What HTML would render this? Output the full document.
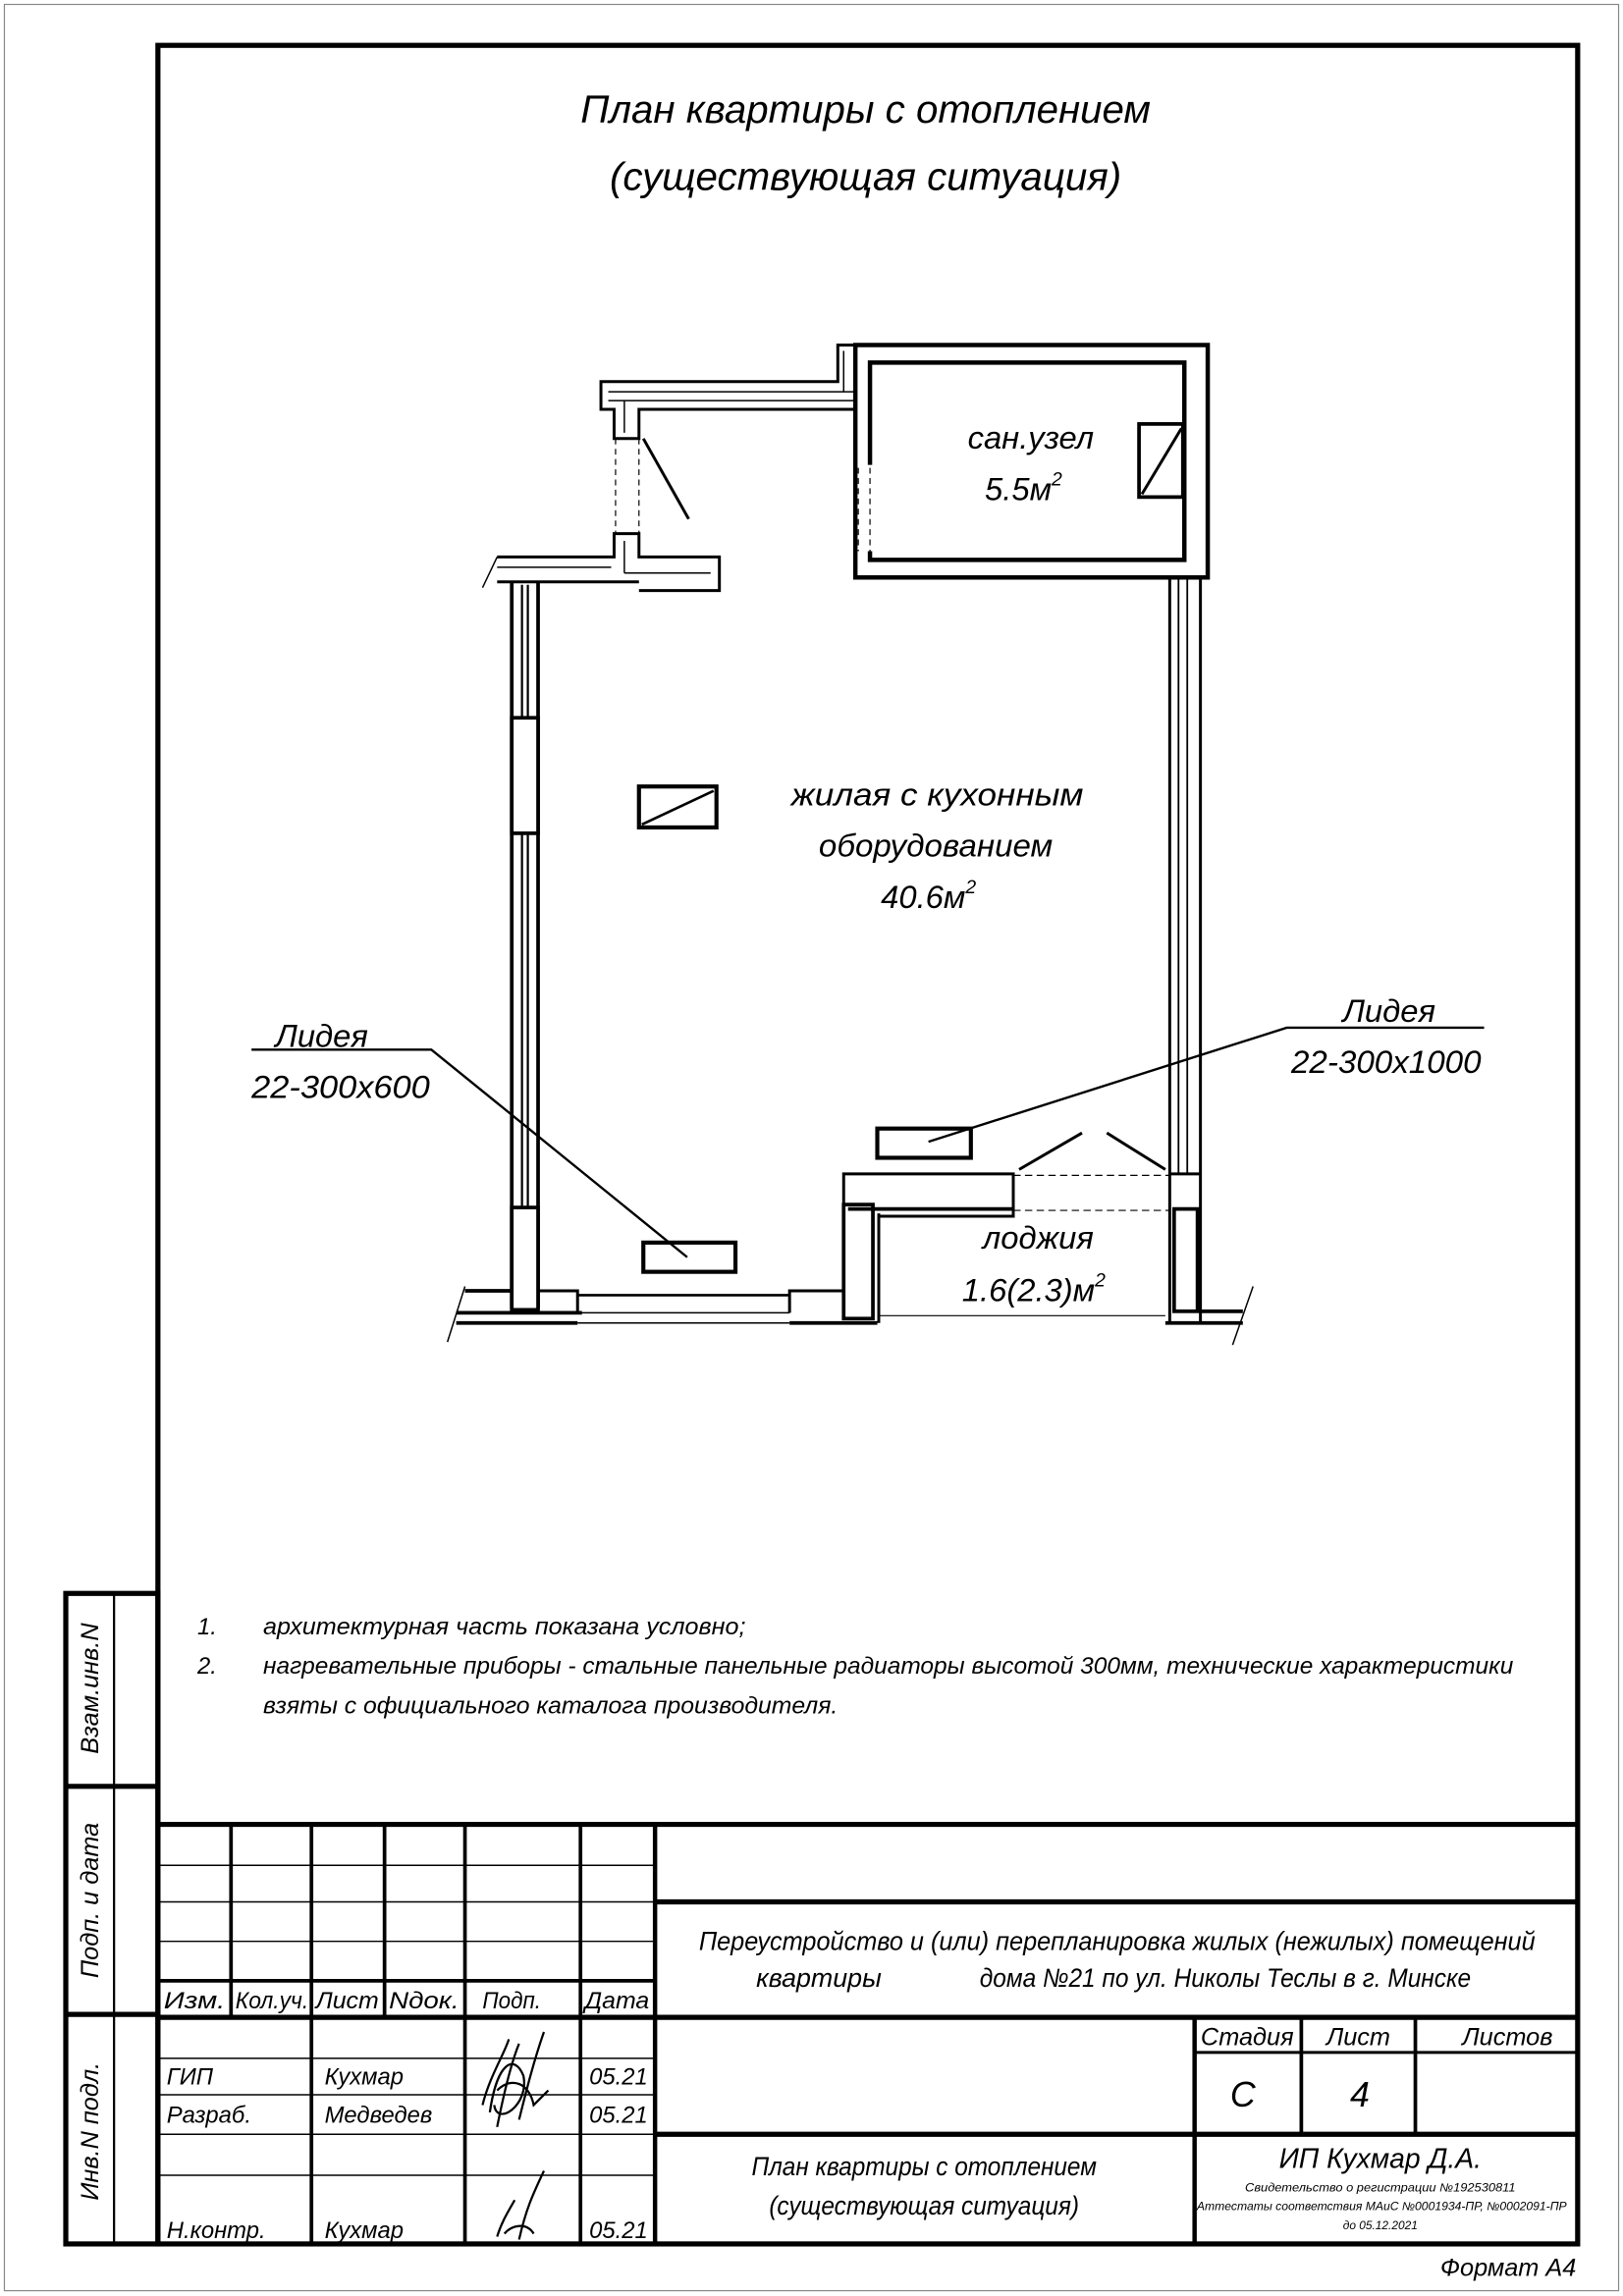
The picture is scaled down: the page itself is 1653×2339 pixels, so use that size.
<!DOCTYPE html>
<html><head><meta charset="utf-8"><style>
html,body{margin:0;padding:0;background:#fff}
svg{display:block}
text{font-family:"Liberation Sans","DejaVu Sans",sans-serif;font-style:italic;fill:#000}
</style></head><body>
<svg width="1653" height="2339" viewBox="0 0 1110 1570.6" xmlns="http://www.w3.org/2000/svg">
<rect x="0" y="0" width="1110" height="1571" fill="#fff"/>
<!-- outer thin border -->
<rect x="3" y="3" width="1104" height="1564" fill="none" stroke="#888" stroke-width="0.8"/>
<!-- main frame -->
<rect x="108" y="31" width="971" height="1504" fill="none" stroke="#000" stroke-width="3.5"/>
<!-- side strip -->
<g stroke="#000" fill="none">
<rect x="45" y="1090" width="63" height="445" stroke-width="3.5"/>
<line x1="78" y1="1090" x2="78" y2="1535" stroke-width="1.5"/>
<line x1="45" y1="1222" x2="108" y2="1222" stroke-width="3.5"/>
<line x1="45" y1="1378" x2="108" y2="1378" stroke-width="3.5"/>
</g>
<text transform="translate(67,1155) rotate(-90)" font-size="17" text-anchor="middle">Взам.инв.N</text>
<text transform="translate(67,1300) rotate(-90)" font-size="17" text-anchor="middle">Подп. и дата</text>
<text transform="translate(67,1458) rotate(-90)" font-size="17" text-anchor="middle">Инв.N подл.</text>

<!-- title -->
<text x="592" y="84" font-size="27" text-anchor="middle" textLength="390" lengthAdjust="spacingAndGlyphs">План квартиры с отоплением</text>
<text x="592" y="130" font-size="27" text-anchor="middle" textLength="350" lengthAdjust="spacingAndGlyphs">(существующая ситуация)</text>

<!-- FLOOR PLAN -->
<g stroke="#000" fill="none" stroke-width="2.5">
<!-- sanuzel -->
<rect x="585" y="236" width="241" height="159" stroke-width="3"/>
<polyline points="595,318 595,248 810,248 810,383 595,383 595,377" stroke-width="3"/>
<line x1="587" y1="320" x2="587" y2="377" stroke-width="0.8" stroke-dasharray="4,3"/>
<line x1="595" y1="320" x2="595" y2="377" stroke-width="0.8" stroke-dasharray="4,3"/>
<rect x="779" y="290" width="30" height="50" stroke-width="2.5"/>
<line x1="781" y1="338" x2="808" y2="293" stroke-width="2"/>
<!-- upper corridor wall -->
<polyline points="585,236 573,236 573,261 411,261 411,280 420,280 420,300 437,300 437,280 585,280" stroke-width="2"/>
<line x1="577" y1="240" x2="577" y2="268" stroke-width="1"/>
<line x1="416" y1="268" x2="585" y2="268" stroke-width="1"/>
<line x1="416" y1="274" x2="585" y2="274" stroke-width="1"/>
<line x1="427" y1="274" x2="427" y2="296" stroke-width="1"/>
<line x1="421" y1="300" x2="421" y2="365" stroke-width="0.8" stroke-dasharray="4,3"/>
<line x1="437" y1="300" x2="437" y2="365" stroke-width="0.8" stroke-dasharray="4,3"/>
<line x1="440" y1="300" x2="471" y2="355" stroke-width="2"/>
<!-- lower corridor wall -->
<polyline points="340,381 420,381 420,365 437,365 437,381 492,381 492,404 437,404" stroke-width="2"/>
<line x1="340" y1="398" x2="437" y2="398" stroke-width="2"/>
<line x1="427" y1="370" x2="427" y2="392" stroke-width="1"/>
<line x1="427" y1="392" x2="486" y2="392" stroke-width="1"/>
<line x1="340" y1="388" x2="418" y2="388" stroke-width="1"/>
<line x1="330" y1="402" x2="340" y2="381" stroke-width="1"/>
<!-- left wall -->
<line x1="350" y1="398" x2="350" y2="895" stroke-width="2.5"/>
<line x1="368" y1="398" x2="368" y2="895" stroke-width="2.5"/>
<line x1="357" y1="400" x2="357" y2="825" stroke-width="1.5"/>
<line x1="361" y1="400" x2="361" y2="825" stroke-width="1.5"/>
<rect x="350" y="491" width="18" height="79" fill="#fff" stroke-width="2.5"/>
<rect x="350" y="826" width="18" height="70" fill="#fff" stroke-width="2.5"/>
<!-- bottom wall -->
<polyline points="318,883 350,883" stroke-width="2.5"/>
<polyline points="368,883 395,883 395,898" stroke-width="2"/>
<line x1="312" y1="898" x2="398" y2="898" stroke-width="2.5"/>
<line x1="395" y1="886" x2="540" y2="886" stroke-width="1.8"/>
<line x1="395" y1="898" x2="540" y2="898" stroke-width="1"/>
<polyline points="540,898 540,883 578,883" stroke-width="2"/>
<line x1="540" y1="905" x2="600" y2="905" stroke-width="2.5"/>
<line x1="395" y1="905" x2="540" y2="905" stroke-width="1"/>
<line x1="312" y1="905" x2="395" y2="905" stroke-width="2.5"/>
<line x1="306" y1="918" x2="318" y2="880" stroke-width="1"/>
<!-- loggia -->
<rect x="577" y="824" width="20" height="78" stroke-width="2.5"/>
<line x1="601" y1="830" x2="601" y2="905" stroke-width="2"/>
<polyline points="577,824 577,803 693,803 693,832 601,832" stroke-width="2"/>
<line x1="580" y1="827" x2="693" y2="827" stroke-width="2.5"/>
<line x1="693" y1="804" x2="800" y2="804" stroke-width="0.8" stroke-dasharray="5,3"/>
<line x1="693" y1="828" x2="800" y2="828" stroke-width="0.8" stroke-dasharray="5,3"/>
<line x1="601" y1="900" x2="797" y2="900" stroke-width="0.8"/>
<line x1="697" y1="800" x2="740" y2="775" stroke-width="2"/>
<line x1="757" y1="775" x2="797" y2="800" stroke-width="2"/>
<!-- right wall -->
<line x1="800" y1="395" x2="800" y2="905" stroke-width="2"/>
<line x1="806" y1="395" x2="806" y2="803" stroke-width="1.2"/>
<line x1="812" y1="395" x2="812" y2="803" stroke-width="1.2"/>
<line x1="821" y1="395" x2="821" y2="905" stroke-width="2"/>
<line x1="800" y1="803" x2="821" y2="803" stroke-width="2"/>
<rect x="803" y="827" width="16" height="70" stroke-width="2.5"/>
<line x1="797" y1="905" x2="850" y2="905" stroke-width="2.5"/>
<line x1="821" y1="897" x2="850" y2="897" stroke-width="2.5"/>
<line x1="843" y1="920" x2="857" y2="880" stroke-width="1"/>
<!-- radiators / vents -->
<rect x="600" y="772" width="64" height="20" stroke-width="2.8"/>
<rect x="440" y="850" width="63" height="20" stroke-width="2.8"/>
<rect x="437" y="538" width="53" height="28" stroke-width="2.8"/>
<line x1="439" y1="564" x2="488" y2="541" stroke-width="1.8"/>
<!-- leaders -->
<polyline points="172,718 295,718 470,860" stroke-width="1.6"/>
<polyline points="1015,703 880,703 635,781" stroke-width="1.6"/>
</g>
<text x="705" y="307" font-size="22" text-anchor="middle">сан.узел</text>
<text x="700" y="342" font-size="22" text-anchor="middle">5.5м<tspan font-size="13" dy="-10">2</tspan></text>
<text x="641" y="551" font-size="22" text-anchor="middle" textLength="200" lengthAdjust="spacingAndGlyphs">жилая с кухонным</text>
<text x="640" y="586" font-size="22" text-anchor="middle" textLength="160" lengthAdjust="spacingAndGlyphs">оборудованием</text>
<text x="635" y="621" font-size="22" text-anchor="middle">40.6м<tspan font-size="13" dy="-10">2</tspan></text>
<text x="710" y="854" font-size="22" text-anchor="middle">лоджия</text>
<text x="707" y="890" font-size="22" text-anchor="middle">1.6(2.3)м<tspan font-size="13" dy="-10">2</tspan></text>
<text x="220" y="716" font-size="22" text-anchor="middle">Лидея</text>
<text x="233" y="751" font-size="22" text-anchor="middle" textLength="122" lengthAdjust="spacingAndGlyphs">22-300х600</text>
<text x="950" y="699" font-size="22" text-anchor="middle">Лидея</text>
<text x="948" y="734" font-size="22" text-anchor="middle" textLength="130" lengthAdjust="spacingAndGlyphs">22-300х1000</text>

<!-- notes -->
<text x="135" y="1118" font-size="16">1.</text>
<text x="180" y="1118" font-size="16" textLength="330" lengthAdjust="spacingAndGlyphs">архитектурная часть показана условно;</text>
<text x="135" y="1145" font-size="16">2.</text>
<text x="180" y="1145" font-size="16" textLength="855" lengthAdjust="spacingAndGlyphs">нагревательные приборы - стальные панельные радиаторы высотой 300мм, технические характеристики</text>
<text x="180" y="1172" font-size="16" textLength="393" lengthAdjust="spacingAndGlyphs">взяты с официального каталога производителя.</text>

<!-- title block -->
<g stroke="#000" fill="none">
<line x1="108" y1="1248" x2="1079" y2="1248" stroke-width="3.5"/>
<line x1="448" y1="1248" x2="448" y2="1535" stroke-width="3"/>
<line x1="158" y1="1248" x2="158" y2="1380" stroke-width="2.5"/>
<line x1="213" y1="1248" x2="213" y2="1380" stroke-width="2.5"/>
<line x1="263" y1="1248" x2="263" y2="1380" stroke-width="2.5"/>
<line x1="318" y1="1248" x2="318" y2="1535" stroke-width="2.5"/>
<line x1="397" y1="1248" x2="397" y2="1535" stroke-width="2.5"/>
<line x1="213" y1="1380" x2="213" y2="1535" stroke-width="2.5"/>
<g stroke-width="1">
<line x1="108" y1="1276" x2="448" y2="1276"/>
<line x1="108" y1="1301" x2="448" y2="1301"/>
<line x1="108" y1="1328" x2="448" y2="1328"/>
<line x1="108" y1="1408" x2="448" y2="1408"/>
<line x1="108" y1="1433" x2="448" y2="1433"/>
<line x1="108" y1="1460" x2="448" y2="1460"/>
<line x1="108" y1="1488" x2="448" y2="1488"/>
</g>
<line x1="108" y1="1355" x2="448" y2="1355" stroke-width="2.5"/>
<line x1="108" y1="1380" x2="1079" y2="1380" stroke-width="3.5"/>
<line x1="448" y1="1301" x2="1079" y2="1301" stroke-width="3.5"/>
<line x1="448" y1="1460" x2="1079" y2="1460" stroke-width="3.5"/>
<line x1="817" y1="1380" x2="817" y2="1535" stroke-width="3"/>
<line x1="890" y1="1380" x2="890" y2="1460" stroke-width="2.5"/>
<line x1="968" y1="1380" x2="968" y2="1460" stroke-width="2.5"/>
<line x1="817" y1="1404" x2="1079" y2="1404" stroke-width="2"/>
</g>
<g font-size="16">
<text x="112" y="1374" textLength="42" lengthAdjust="spacingAndGlyphs">Изм.</text>
<text x="161" y="1374" textLength="50" lengthAdjust="spacingAndGlyphs">Кол.уч.</text>
<text x="216" y="1374" textLength="43" lengthAdjust="spacingAndGlyphs">Лист</text>
<text x="266" y="1374" textLength="48" lengthAdjust="spacingAndGlyphs">Nдок.</text>
<text x="330" y="1374" textLength="40" lengthAdjust="spacingAndGlyphs">Подп.</text>
<text x="400" y="1374" textLength="44" lengthAdjust="spacingAndGlyphs">Дата</text>
<text x="114" y="1426">ГИП</text>
<text x="222" y="1426">Кухмар</text>
<text x="403" y="1426" textLength="40" lengthAdjust="spacingAndGlyphs">05.21</text>
<text x="114" y="1452">Разраб.</text>
<text x="222" y="1452">Медведев</text>
<text x="403" y="1452" textLength="40" lengthAdjust="spacingAndGlyphs">05.21</text>
<text x="114" y="1531">Н.контр.</text>
<text x="222" y="1531">Кухмар</text>
<text x="403" y="1531" textLength="40" lengthAdjust="spacingAndGlyphs">05.21</text>
</g>
<!-- signatures -->
<g stroke="#000" fill="none" stroke-width="1.5">
<path d="M330,1440 C335,1420 345,1405 348,1395 M340,1455 C345,1430 350,1410 355,1398 M355,1450 C360,1430 365,1410 372,1390 M335,1445 C340,1410 352,1405 358,1420 C362,1440 340,1455 338,1440 M340,1430 C350,1420 362,1425 365,1440 L375,1430"/>
<path d="M340,1530 C343,1520 348,1512 352,1505 M355,1532 C360,1510 365,1500 372,1485 M345,1528 C350,1522 360,1520 365,1528"/>
</g>
<text x="764" y="1334" font-size="18" text-anchor="middle" textLength="572" lengthAdjust="spacingAndGlyphs">Переустройство и (или) перепланировка жилых (нежилых) помещений</text>
<text x="560" y="1359" font-size="18" text-anchor="middle">квартиры</text>
<text x="838" y="1359" font-size="18" text-anchor="middle" textLength="336" lengthAdjust="spacingAndGlyphs">дома №21 по ул. Николы Теслы в г. Минске</text>
<text x="853" y="1399" font-size="17" text-anchor="middle">Стадия</text>
<text x="929" y="1399" font-size="17" text-anchor="middle">Лист</text>
<text x="1031" y="1399" font-size="17" text-anchor="middle">Листов</text>
<text x="850" y="1441" font-size="24" text-anchor="middle">С</text>
<text x="930" y="1441" font-size="24" text-anchor="middle">4</text>
<text x="632" y="1488" font-size="18" text-anchor="middle" textLength="236" lengthAdjust="spacingAndGlyphs">План квартиры с отоплением</text>
<text x="632" y="1515" font-size="18" text-anchor="middle" textLength="212" lengthAdjust="spacingAndGlyphs">(существующая ситуация)</text>
<text x="944" y="1483" font-size="19" text-anchor="middle">ИП Кухмар Д.А.</text>
<text x="944" y="1499" font-size="8" text-anchor="middle" textLength="185" lengthAdjust="spacingAndGlyphs">Свидетельство о регистрации №192530811</text>
<text x="945" y="1512" font-size="8" text-anchor="middle" textLength="253" lengthAdjust="spacingAndGlyphs">Аттестаты соответствия МАиС №0001934-ПР, №0002091-ПР</text>
<text x="944" y="1525" font-size="8" text-anchor="middle">до 05.12.2021</text>
<text x="1078" y="1557" font-size="17" text-anchor="end">Формат А4</text>
</svg>
</body></html>
